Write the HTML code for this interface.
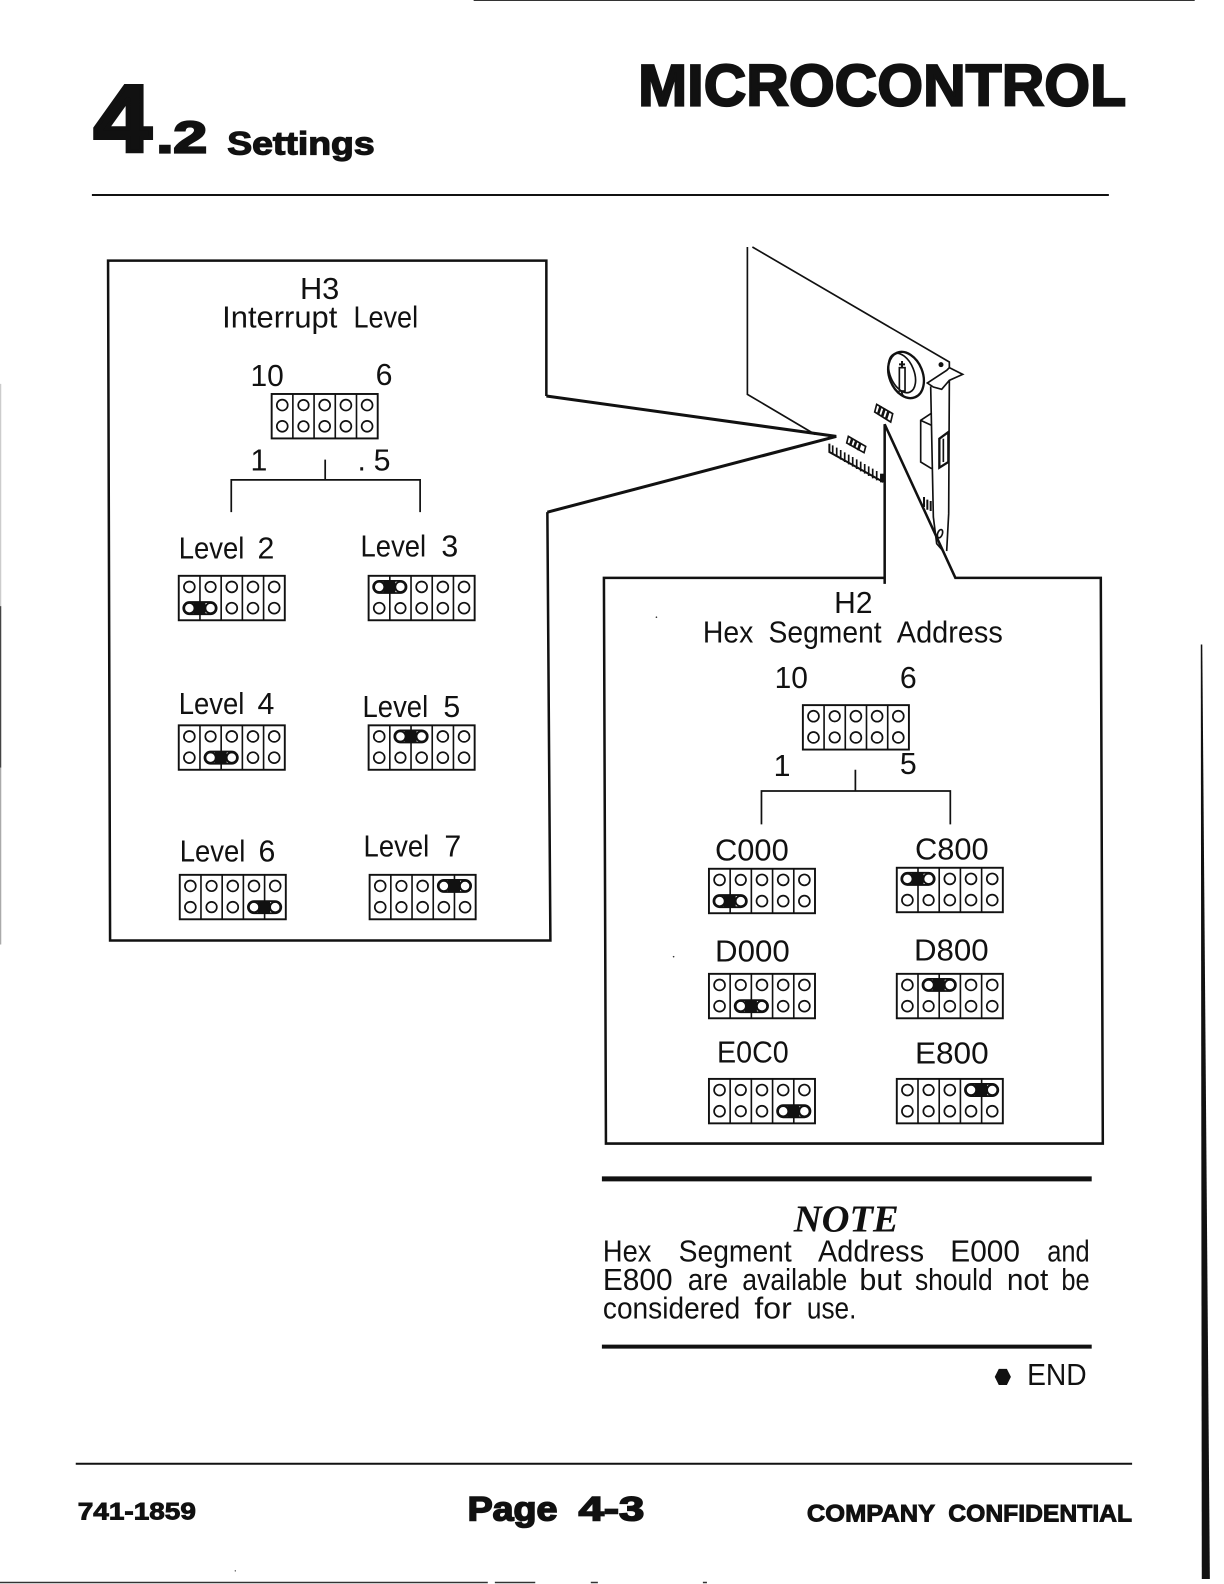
<!DOCTYPE html>
<html><head><meta charset="utf-8"><style>
html,body{margin:0;padding:0;background:#fff}
svg{display:block}
text{font-family:"Liberation Sans",sans-serif;fill:#111}
.b{font-weight:bold;stroke:#111}
.t{font-size:30px}
</style></head><body>
<svg width="1224" height="1584" viewBox="0 0 1212 1568" preserveAspectRatio="none" xmlns="http://www.w3.org/2000/svg">
<defs>
<g id="blk" fill="none" stroke="#111">
<rect x="0" y="0" width="105" height="44" stroke-width="1.9"/>
<path d="M21 0V44M42 0V44M63 0V44M84 0V44" stroke-width="1.6"/>
<g stroke-width="1.7">
<circle cx="10.5" cy="11" r="5.4"/><circle cx="31.5" cy="11" r="5.2"/><circle cx="52.5" cy="11" r="5.4"/><circle cx="73.5" cy="11" r="5.4"/><circle cx="94.5" cy="11" r="5.4"/>
<circle cx="10.5" cy="32" r="5.4"/><circle cx="31.5" cy="32" r="5.2"/><circle cx="52.5" cy="32" r="5.4"/><circle cx="73.5" cy="32" r="5.4"/><circle cx="94.5" cy="32" r="5.4"/>
</g>
</g>
<g id="jmp"><rect x="4.5" y="-6" width="33" height="12" rx="6" fill="none" stroke="#111" stroke-width="1.8"/><rect x="14.5" y="-6.5" width="12" height="13" fill="#111"/><circle cx="10.5" cy="0" r="5" fill="#fff" stroke="#111" stroke-width="1.6"/><circle cx="31.5" cy="0" r="5" fill="#fff" stroke="#111" stroke-width="1.6"/></g>
</defs>

<!-- page edges -->
<path d="M469 0.5H1183" stroke="#333" stroke-width="1"/>
<path d="M1189 638H1190.5L1198 1563H1190Z" fill="#111"/>
<path d="M0.5 380V600" stroke="#ccc" stroke-width="1.5"/>
<path d="M0.5 600V760" stroke="#444" stroke-width="1.5"/>
<path d="M0.5 760V935" stroke="#aaa" stroke-width="1.5"/>
<path d="M0 1566.5H483M490 1566.5H530M585 1566.5H592M696 1566.5H700" stroke="#333" stroke-width="1.5"/>
<circle cx="233" cy="1555" r="0.7" fill="#555"/>

<!-- header -->
<text class="b" x="632" y="104.5" font-size="58" stroke-width="2.2" textLength="483" lengthAdjust="spacing">MICROCONTROL</text>
<text class="b" x="93" y="150" font-size="94" stroke-width="4" textLength="57" lengthAdjust="spacingAndGlyphs">4</text>
<text class="b" x="155" y="151" font-size="44" stroke-width="2.2" textLength="50" lengthAdjust="spacingAndGlyphs">.2</text>
<text class="b" x="225" y="153" font-size="32" stroke-width="1.2" textLength="146" lengthAdjust="spacingAndGlyphs">Settings</text>
<path d="M91 193H1098" stroke="#111" stroke-width="2"/>

<!-- H3 box + callout -->
<path d="M541 392V258H107L109 931H545L542 507" fill="none" stroke="#111" stroke-width="2.5"/>
<path d="M541 392L828 432L542 507" fill="none" stroke="#111" stroke-width="3"/>
<text class="t" x="297" y="296" textLength="39" lengthAdjust="spacingAndGlyphs">H3</text>
<text class="t" x="220" y="324" textLength="114" lengthAdjust="spacingAndGlyphs">Interrupt</text>
<text class="t" x="350" y="324" textLength="64" lengthAdjust="spacingAndGlyphs">Level</text>
<text class="t" x="248" y="382" textLength="33" lengthAdjust="spacingAndGlyphs">10</text>
<text class="t" x="372" y="381">6</text>
<use href="#blk" x="269" y="390"/>
<text class="t" x="248" y="466">1</text>
<text class="t" x="354" y="466">.</text>
<text class="t" x="370" y="466">5</text>
<path d="M229 507V475H416V507M322 475V455" fill="none" stroke="#111" stroke-width="1.7"/>

<text class="t" x="177" y="553" textLength="65" lengthAdjust="spacingAndGlyphs">Level</text><text class="t" x="255" y="553">2</text>
<text class="t" x="357" y="551" textLength="65" lengthAdjust="spacingAndGlyphs">Level</text><text class="t" x="437" y="551">3</text>
<text class="t" x="177" y="707" textLength="65" lengthAdjust="spacingAndGlyphs">Level</text><text class="t" x="255" y="707">4</text>
<text class="t" x="359" y="710" textLength="65" lengthAdjust="spacingAndGlyphs">Level</text><text class="t" x="439" y="710">5</text>
<text class="t" x="178" y="853" textLength="65" lengthAdjust="spacingAndGlyphs">Level</text><text class="t" x="256" y="853">6</text>
<text class="t" x="360" y="848" textLength="65" lengthAdjust="spacingAndGlyphs">Level</text><text class="t" x="440" y="848">7</text>

<use href="#blk" x="177" y="570"/><use href="#jmp" x="177" y="602"/>
<use href="#blk" x="365" y="570"/><use href="#jmp" x="365" y="581"/>
<use href="#blk" x="177" y="718"/><use href="#jmp" x="198" y="750"/>
<use href="#blk" x="365" y="718"/><use href="#jmp" x="386" y="729"/>
<use href="#blk" x="178" y="866"/><use href="#jmp" x="241" y="898"/>
<use href="#blk" x="366" y="866"/><use href="#jmp" x="429" y="877"/>

<!-- H2 box + callout -->
<path d="M876 572H598L600 1132H1092L1090 572H946L876 420V578" fill="none" stroke="#111" stroke-width="2.5"/>
<text class="t" x="826" y="607" textLength="38" lengthAdjust="spacingAndGlyphs">H2</text>
<text class="t" x="696" y="636" textLength="50" lengthAdjust="spacingAndGlyphs">Hex</text>
<text class="t" x="761" y="636" textLength="112" lengthAdjust="spacingAndGlyphs">Segment</text>
<text class="t" x="888" y="636" textLength="105" lengthAdjust="spacingAndGlyphs">Address</text>
<text class="t" x="767" y="681" textLength="33" lengthAdjust="spacingAndGlyphs">10</text>
<text class="t" x="891" y="681">6</text>
<use href="#blk" x="795" y="698"/>
<text class="t" x="766" y="768">1</text>
<text class="t" x="891" y="766">5</text>
<path d="M754 816V783H941V816M847 783V762" fill="none" stroke="#111" stroke-width="1.7"/>

<text class="t" x="708" y="852" textLength="73" lengthAdjust="spacingAndGlyphs">C000</text>
<text class="t" x="906" y="851" textLength="73" lengthAdjust="spacingAndGlyphs">C800</text>
<text class="t" x="708" y="952" textLength="74" lengthAdjust="spacingAndGlyphs">D000</text>
<text class="t" x="905" y="951" textLength="74" lengthAdjust="spacingAndGlyphs">D800</text>
<text class="t" x="710" y="1052" textLength="71" lengthAdjust="spacingAndGlyphs">E0C0</text>
<text class="t" x="906" y="1053" textLength="73" lengthAdjust="spacingAndGlyphs">E800</text>

<use href="#blk" x="702" y="860"/><use href="#jmp" x="702" y="892"/>
<use href="#blk" x="888" y="859"/><use href="#jmp" x="888" y="870"/>
<use href="#blk" x="702" y="964"/><use href="#jmp" x="723" y="996"/>
<use href="#blk" x="888" y="964"/><use href="#jmp" x="909" y="975"/>
<use href="#blk" x="702" y="1068"/><use href="#jmp" x="765" y="1100"/>
<use href="#blk" x="888" y="1068"/><use href="#jmp" x="951" y="1079"/>

<!-- card (drawn in zoom-crop coordinates) -->
<g transform="translate(713 228) scale(.33)" fill="none" stroke="#111" stroke-width="5">
<path d="M82 50V492L285 612"/>
<path d="M97 50L520 297L688 395V412"/>
<path d="M622 458L680 420L688 412L728 432L688 450L665 477L640 470Z"/>
<path d="M632 468L640 860L650 940L672 965M688 450L686 850L680 962"/>
<circle cx="663" cy="403" r="5" fill="#111"/>
<ellipse cx="558" cy="434" rx="50" ry="72" transform="rotate(-22 558 434)" stroke-width="7"/>
<ellipse cx="546" cy="428" rx="36" ry="62" transform="rotate(-22 546 428)"/>
<rect x="538" y="412" width="17" height="70"/>
<path d="M546 412V392M537 402H555" stroke-width="6"/>
<path d="M545 480Q545 502 565 502"/>
<path d="M635 548L602 570V695L635 715M602 570L635 585"/>
<path d="M685 605L658 625V712L685 695Z" stroke-width="7"/>
<path d="M670 625V695"/>
<path d="M612 800V830M622 808V838M632 812V842" stroke-width="6"/>
<ellipse cx="660" cy="910" rx="7" ry="13" transform="rotate(20 660 910)"/>
<path d="M328 640V665L490 755" stroke-width="6"/>
<path d="M338 645V672M350 652V680M362 659V688M374 666V695M386 673V702M398 680V709M410 687V716M422 694V723M434 701V730M446 708V737M458 715V744M470 722V750" stroke-width="5"/>
<rect x="480" y="730" width="14" height="26" fill="#111" stroke="none"/>
<path d="M470 522L518 550L512 575L464 545Z"/>
<path d="M482 527L474 552M494 534L486 559M506 541L498 566" stroke-width="8"/>
<path d="M385 618L437 648L432 667L380 638Z"/>
<path d="M397 624L390 646M409 631L402 652M421 638L414 660" stroke-width="8"/>
</g>
<circle cx="650" cy="611" r="0.8" fill="#333"/><circle cx="667" cy="947" r="0.8" fill="#333"/>

<!-- note -->
<path d="M596 1167H1081" stroke="#111" stroke-width="5"/>
<text x="786" y="1219" style="font-family:'Liberation Serif',serif" font-size="38" font-weight="bold" font-style="italic" textLength="104" lengthAdjust="spacingAndGlyphs">NOTE</text>
<text class="t" x="597" y="1249" textLength="48" lengthAdjust="spacingAndGlyphs">Hex</text>
<text class="t" x="672" y="1249" textLength="112" lengthAdjust="spacingAndGlyphs">Segment</text>
<text class="t" x="810" y="1249" textLength="105" lengthAdjust="spacingAndGlyphs">Address</text>
<text class="t" x="941" y="1249" textLength="69" lengthAdjust="spacingAndGlyphs">E000</text>
<text class="t" x="1037" y="1249" textLength="42" lengthAdjust="spacingAndGlyphs">and</text>
<text class="t" x="597" y="1277" textLength="69" lengthAdjust="spacingAndGlyphs">E800</text>
<text class="t" x="681" y="1277" textLength="40" lengthAdjust="spacingAndGlyphs">are</text>
<text class="t" x="735" y="1277" textLength="104" lengthAdjust="spacingAndGlyphs">available</text>
<text class="t" x="851" y="1277" textLength="42" lengthAdjust="spacingAndGlyphs">but</text>
<text class="t" x="906" y="1277" textLength="77" lengthAdjust="spacingAndGlyphs">should</text>
<text class="t" x="997" y="1277" textLength="41" lengthAdjust="spacingAndGlyphs">not</text>
<text class="t" x="1051" y="1277" textLength="28" lengthAdjust="spacingAndGlyphs">be</text>
<text class="t" x="597" y="1305" textLength="136" lengthAdjust="spacingAndGlyphs">considered</text>
<text class="t" x="747" y="1305" textLength="37" lengthAdjust="spacingAndGlyphs">for</text>
<text class="t" x="799" y="1305" textLength="49" lengthAdjust="spacingAndGlyphs">use.</text>
<path d="M596 1333H1081" stroke="#111" stroke-width="4"/>
<path d="M985 1363L989 1355H997L1001 1363L997 1371H989Z" fill="#111"/>
<text class="t" x="1017" y="1371" textLength="59" lengthAdjust="spacingAndGlyphs">END</text>

<!-- footer -->
<path d="M75 1449H1121" stroke="#111" stroke-width="2"/>
<text class="b" x="77" y="1504" font-size="24" stroke-width="0.9" textLength="117" lengthAdjust="spacingAndGlyphs">741-1859</text>
<text class="b" x="463" y="1505" font-size="34" stroke-width="1.6" textLength="89" lengthAdjust="spacingAndGlyphs">Page</text>
<text class="b" x="573" y="1505" font-size="34" stroke-width="1.6" textLength="65" lengthAdjust="spacingAndGlyphs">4-3</text>
<text class="b" x="799" y="1506" font-size="24" stroke-width="0.9" textLength="127" lengthAdjust="spacingAndGlyphs">COMPANY</text>
<text class="b" x="939" y="1506" font-size="24" stroke-width="0.9" textLength="182" lengthAdjust="spacingAndGlyphs">CONFIDENTIAL</text>
</svg>
</body></html>
